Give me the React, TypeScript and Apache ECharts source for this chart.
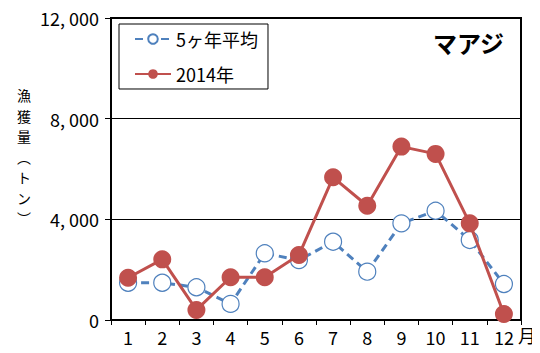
import React, { useEffect, useRef } from "react";
import * as echarts from "echarts";

// Monthly catch of horse mackerel (マアジ), tonnes
const months = ["1", "2", "3", "4", "5", "6", "7", "8", "9", "10", "11", "12"];
const avg5yr = [1480, 1480, 1300, 640, 2650, 2380, 3110, 1920, 3840, 4340, 3180, 1430];
const y2014 = [1680, 2410, 400, 1700, 1700, 2580, 5670, 4540, 6890, 6600, 3840, 240];
const yTicks = [0, 4000, 8000, 12000];
const yTitleChars = ["漁", "獲", "量", "︵", "ト", "ン", "︶"];

const avgName = "5ヶ年平均";
const curName = "2014年";
const blue = "#4F81BD";
const red = "#C0504D";
const FONT = "'Noto Sans CJK JP', 'Noto Sans', sans-serif";

export default function App() {
  const ref = useRef<HTMLDivElement>(null);
  useEffect(() => {
    if (!ref.current) return;
    const chart = echarts.init(ref.current, null, { renderer: "svg" });
    chart.setOption({
      animation: false,
      backgroundColor: "#fff",
      textStyle: { fontFamily: FONT },
      grid: {
        left: 111,
        right: 19,
        top: 18,
        bottom: 33,
        show: true,
        borderColor: "#000",
        borderWidth: 2,
      },
      legend: {
        orient: "vertical",
        left: 119,
        top: 24,
        width: 166,
        padding: [6, 10, 6, 15],
        itemGap: 17,
        itemWidth: 36,
        itemHeight: 12,
        borderColor: "#000",
        borderWidth: 1,
        backgroundColor: "#fff",
        textStyle: { fontSize: 18, color: "#000", fontFamily: FONT, padding: [0, 50, 0, 0] },
        data: [{ name: avgName }, { name: curName }],
      },
      xAxis: {
        type: "category",
        data: months,
        boundaryGap: true,
        axisLine: { lineStyle: { color: "#000", width: 2 } },
        axisTick: { show: true, length: 5, lineStyle: { color: "#000", width: 1 } },
        axisLabel: { color: "#000", fontSize: 18, margin: 8, fontFamily: FONT },
      },
      yAxis: {
        type: "value",
        min: yTicks[0],
        max: yTicks[yTicks.length - 1],
        interval: yTicks[1] - yTicks[0],
        axisLine: { show: true, lineStyle: { color: "#000", width: 2 } },
        axisTick: { show: true, length: 6, lineStyle: { color: "#000", width: 1 } },
        splitLine: { show: true, lineStyle: { color: "#000", width: 1 } },
        axisLabel: {
          color: "#000",
          fontSize: 18,
          margin: 12,
          fontFamily: FONT,
          formatter: (v: number) => v.toLocaleString("en-US").replace(",", ", "),
        },
      },
      graphic: [
        {
          type: "text",
          left: 433,
          top: 30,
          style: { text: "マアジ", fontSize: 24, fontWeight: "bold", fill: "#000", fontFamily: FONT },
        },
        {
          type: "group",
          left: 17,
          top: 88,
          children: yTitleChars.map((ch, i) => ({
            type: "text",
            x: 0,
            y: i * 20.5,
            style: { text: ch, fontSize: 14, fill: "#000", fontFamily: FONT },
          })),
        },
        {
          type: "text",
          left: 518,
          top: 326,
          style: { text: "月", fontSize: 18, fill: "#000", fontFamily: FONT },
        },
      ],
      series: [
        {
          name: avgName,
          type: "line",
          data: avg5yr,
          symbol: "circle",
          symbolSize: 17,
          z: 2,
          lineStyle: { color: blue, width: 3, type: [8, 5] },
          itemStyle: { color: "#fff", borderColor: blue, borderWidth: 1.2 },
        },
        {
          name: curName,
          type: "line",
          data: y2014,
          symbol: "circle",
          symbolSize: 18,
          z: 3,
          lineStyle: { color: red, width: 3 },
          itemStyle: { color: red, borderColor: red, borderWidth: 0 },
        },
      ],
    });
    return () => chart.dispose();
  }, []);
  return <div ref={ref} style={{ width: 540, height: 353, margin: -8 }} />;
}
